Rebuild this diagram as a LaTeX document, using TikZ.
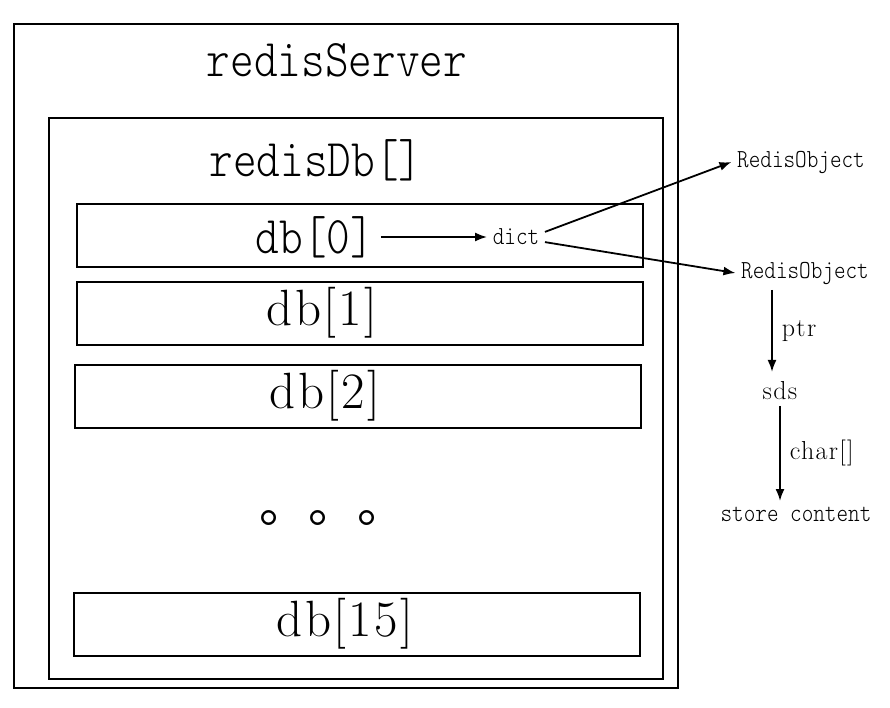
\documentclass[tikz,border=0pt]{standalone}
\usepackage{fontspec}
\usetikzlibrary{arrows.meta}
\newfontfamily\narrowtt{lmmonolt10-regular.otf}[FakeStretch=0.85]
\newfontfamily\spacedrm{lmroman17-regular.otf}[LetterSpace=5]
\newfontfamily\cjk{Noto Sans CJK SC}

\begin{document}
\begin{tikzpicture}[x=1pt,y=-1pt,line width=1.5pt,
  bigtt/.style={font=\narrowtt\fontsize{53}{60}\selectfont,inner sep=0pt},
  bigrm/.style={font=\spacedrm\fontsize{51}{58}\selectfont,inner sep=0pt},
  smalltt/.style={font=\narrowtt\fontsize{26}{30}\selectfont,inner sep=5pt},
  smallrm/.style={font=\spacedrm\fontsize{26}{30}\selectfont,inner sep=5pt},
  link/.style={line width=1.8pt,-{Latex[length=12pt,width=9pt]}}]

\useasboundingbox (0,0) rectangle (890,707);

\draw (14,24) rectangle (678,688);
\draw (49,118) rectangle (663,679);
\draw (77,204) rectangle (643,267);
\draw (77,282) rectangle (643,345);
\draw (75,365) rectangle (641,428);
\draw (74,593) rectangle (640,656);

\node[bigtt] (server) at (337,60) {redisServer};
\node[bigtt] (dbarr) at (316,160) {redisDb[]};
\node[bigtt] (db0) at (315,237) {db[0]};
\node[bigrm] (db1) at (322,313) {db[1]};
\node[bigrm] (db2) at (325,396) {db[2]};
\node[bigrm] (db15) at (345,624) {db[15]};
\node[font=\cjk\fontsize{49}{55}\selectfont,inner sep=0pt,anchor=base west] (dots) at (259,522) {。。。};

\node[smalltt] (dict) at (516,237) {dict};
\node[smalltt] (obj1) at (801,162) {RedisObject};
\node[smalltt] (obj2) at (805,273) {RedisObject};
\node[smallrm] (sds) at (780,391) {sds};
\node[smalltt] (store) at (796,514) {store content};

\draw[link] (db0.east) ++(6,0) -- (dict.west);
\draw[link] (dict.10) -- (obj1.west);
\draw[link] (dict.-10) -- (obj2.west);
\draw[link] (obj2.south -| sds.north) ++(-8,0) -- ++(0,82) node[smallrm,midway,right,xshift=4pt] (ptr) {ptr};
\draw[link] (sds.south) -- (sds.south |- store.north) node[smallrm,midway,right,xshift=4pt] (chars) {char[]};

\end{tikzpicture}
\end{document}
